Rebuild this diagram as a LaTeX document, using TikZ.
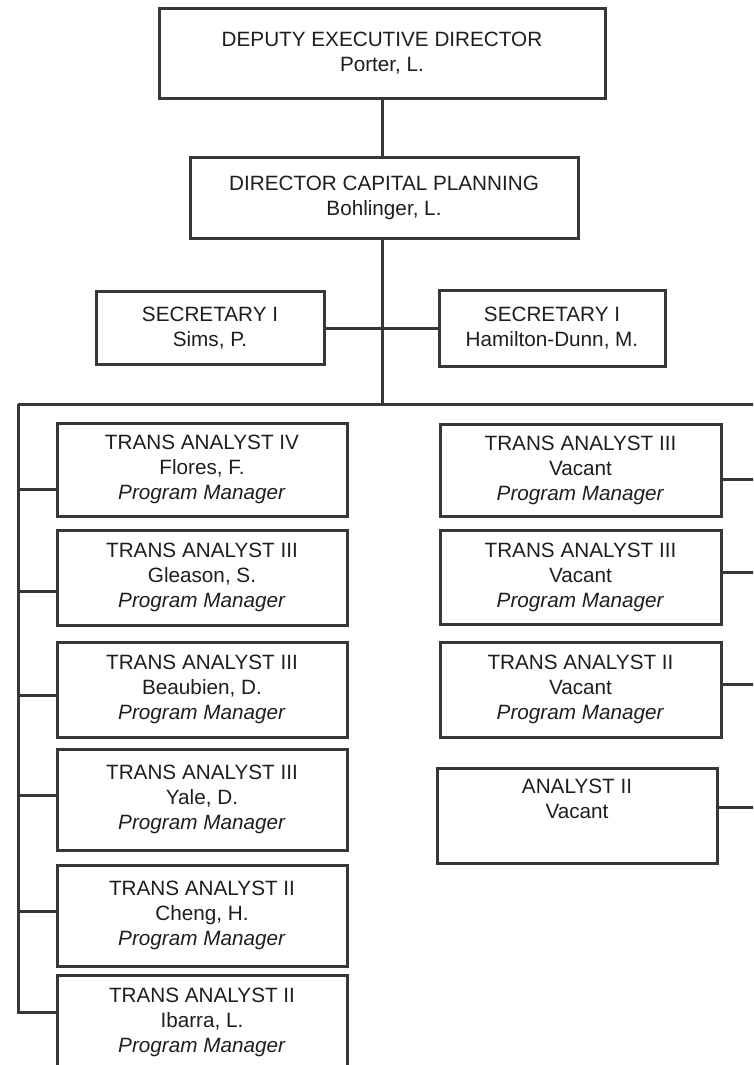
\documentclass[tikz,border=0pt]{standalone}
\usepackage{fontspec}
\setmainfont{Liberation Sans}
\definecolor{ink}{RGB}{55,55,55}
\definecolor{inktext}{RGB}{30,30,30}

\begin{document}
\begin{tikzpicture}[x=1pt,y=-1pt,
    post/.style={draw=ink,line width=3pt,text=inktext,align=center,inner sep=0pt,
      font=\fontsize{20.7}{25}\selectfont},
    link/.style={draw=ink,line width=3pt}]
\useasboundingbox (0,0) rectangle (753,1065);
\clip (0,0) rectangle (753,1065);

% top of the chart
\node[post,minimum width=446pt,minimum height=89pt] (ded) at (382,53.5)
  {DEPUTY EXECUTIVE DIRECTOR\\Porter, L.};
\node[post,minimum width=388pt,minimum height=81pt] (dcp) at (384,197.5)
  {DIRECTOR CAPITAL PLANNING\\Bohlinger, L.};
\node[post,minimum width=228pt,minimum height=73pt] (secA) at (210,328)
  {SECRETARY I\\Sims, P.};
\node[post,minimum width=226pt,minimum height=76pt] (secB) at (552,328)
  {SECRETARY I\\Hamilton-Dunn, M.};

\coordinate (bus) at (382,404);
\coordinate (lbus) at (18,404);
\coordinate (rbus) at (760,404);
\coordinate (lend) at (18,1012);

\draw[link] (ded.south -| bus) -- (dcp.north -| bus);
\draw[link] (dcp.south -| bus) -- (bus);
\draw[link] (secA.east) -- (secB.west);
\draw[link] (lbus) -- (rbus);
\draw[link] (lbus) -- (lend);

% left column
\foreach \name/\yc/\dy/\hh/\rank/\who in {
    fl/469.5/19.5/93/{TRANS ANALYST IV}/{Flores, F.},
    gl/577.5/13.5/95/{TRANS ANALYST III}/{Gleason, S.},
    be/689.5/5.5/95/{TRANS ANALYST III}/{Beaubien, D.},
    ya/799.5/-4.5/101/{TRANS ANALYST III}/{Yale, D.},
    ch/915.5/-4.5/101/{TRANS ANALYST II}/{Cheng, H.},
    ib/1022.5/-10.5/95/{TRANS ANALYST II}/{Ibarra, L.}}{
  \node[post,minimum width=290pt,minimum height=\hh pt] (\name) at (202,\yc)
    {\rank\\\who\\\textit{Program Manager}};
  \draw[link] ([yshift=-\dy]\name.west) -- ++(-39,0);
}

% right column
\foreach \name/\yc/\dy/\hh/\rank in {
    ra/470/9/92/{TRANS ANALYST III},
    rb/577/-5/94/{TRANS ANALYST III},
    rc/689.5/-5.5/95/{TRANS ANALYST II}}{
  \node[post,minimum width=281pt,minimum height=\hh pt] (\name) at (580.5,\yc)
    {\rank\\Vacant\\\textit{Program Manager}};
  \draw[link] ([yshift=-\dy]\name.east) -- ++(40,0);
}
\node[post,minimum width=280pt,minimum height=95pt] (rd) at (577,815.5)
  {ANALYST II\\Vacant\\\strut};
\draw[link] ([yshift=8.5]rd.east) -- ++(45,0);
\end{tikzpicture}
\end{document}
